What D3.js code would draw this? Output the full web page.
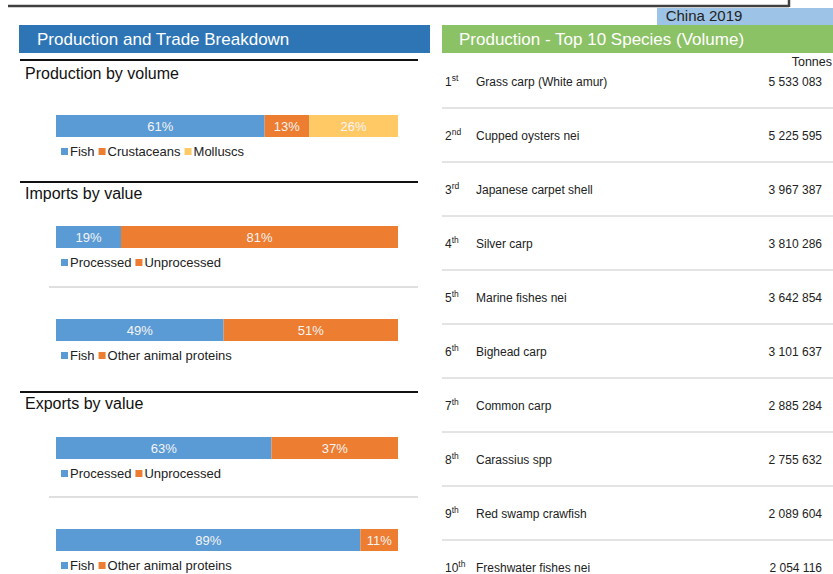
<!DOCTYPE html>
<html>
<head>
<meta charset="utf-8">
<script src="https://cdn.jsdelivr.net/npm/d3@7"></script>
<style>
  body { margin: 0; background: #ffffff; }
  svg { display: block; font-family: "Liberation Sans", Arial, sans-serif; }
</style>
</head>
<body>
<div id="chart"></div>
<script>
// --- Daten ---------------------------------------------------------------- //
var sectionTitles = ['Production by volume', 'Imports by value', 'Exports by value'];

var barCategories = [
    ['Fish', 'Crustaceans', 'Molluscs'],
    ['Processed', 'Unprocessed'],
    ['Fish', 'Other animal proteins'],
    ['Processed', 'Unprocessed'],
    ['Fish', 'Other animal proteins']
];
var barValues = [
    [61, 13, 26],
    [19, 81],
    [49, 51],
    [63, 37],
    [89, 11]
];

var speciesRank = ['1', '2', '3', '4', '5', '6', '7', '8', '9', '10'];
var speciesSuffix = ['st', 'nd', 'rd', 'th', 'th', 'th', 'th', 'th', 'th', 'th'];
var speciesNames = ['Grass carp (White amur)', 'Cupped oysters nei', 'Japanese carpet shell', 'Silver carp',
    'Marine fishes nei', 'Bighead carp', 'Common carp', 'Carassius spp', 'Red swamp crawfish', 'Freshwater fishes nei'];
var speciesTonnes = [5533083, 5225595, 3967387, 3810286, 3642854, 3101637, 2885284, 2755632, 2089604, 2054116];

// --- Konfiguration -------------------------------------------------------- //
var W = 833, H = 574;
var colors = ['#5b9bd5', '#ed7d31', '#ffc966'];

var svg = d3.select('#chart').append('svg')
    .attr('width', W)
    .attr('height', H);

// Kopfzeile
svg.append('line').attr('x1', 8).attr('x2', 789).attr('y1', 6).attr('y2', 6)
    .attr('stroke', '#404040').attr('stroke-width', 2.5);
svg.append('line').attr('x1', 789).attr('x2', 789).attr('y1', 0).attr('y2', 7)
    .attr('stroke', '#404040').attr('stroke-width', 2.5);

svg.append('rect').attr('x', 657).attr('y', 8).attr('width', W - 657).attr('height', 17).attr('fill', '#9dc3e6');
svg.append('text').attr('x', 704).attr('y', 21).attr('text-anchor', 'middle')
    .attr('font-size', 15).attr('fill', '#222').text('China 2019');

svg.append('rect').attr('x', 19).attr('y', 25).attr('width', 411).attr('height', 28).attr('fill', '#2e75b6');
svg.append('text').attr('x', 37).attr('y', 45).attr('font-size', 17).attr('fill', '#fff')
    .text('Production and Trade Breakdown');

svg.append('rect').attr('x', 442).attr('y', 25).attr('width', W - 442).attr('height', 28).attr('fill', '#8cc266');
svg.append('text').attr('x', 459).attr('y', 45).attr('font-size', 17).attr('fill', '#fff')
    .text('Production - Top 10 Species (Volume)');

// --- Linke Seite: gestapelte Balken -------------------------------------- //
var x = d3.scaleLinear().domain([0, 100]).range([56, 398]);

var sectionTop = [60, 182, 392];
var titleOffset = [19, 17, 17];
var barTop = [115, 226, 319, 437, 529];
var barH = 22;

sectionTop.forEach(function (yy, i) {
    svg.append('line').attr('x1', 20).attr('x2', 418).attr('y1', yy).attr('y2', yy)
        .attr('stroke', '#111').attr('stroke-width', 2);
    svg.append('text').attr('x', 25).attr('y', yy + titleOffset[i]).attr('font-size', 16).attr('fill', '#111')
        .text(sectionTitles[i]);
});

// graue Trennlinien zwischen Balken derselben Sektion
[287, 497].forEach(function (yy) {
    svg.append('line').attr('x1', 49).attr('x2', 418).attr('y1', yy).attr('y2', yy)
        .attr('stroke', '#bfbfbf').attr('stroke-width', 1);
});

barValues.forEach(function (vals, b) {
    var g = svg.append('g').attr('class', 'bar' + b);
    var cum = 0;
    var segs = vals.map(function (v, i) {
        var s = { x0: cum, x1: cum + v, v: v, i: i };
        cum += v;
        return s;
    });

    g.selectAll('rect').data(segs).enter().append('rect')
        .attr('x', function (d) { return x(d.x0); })
        .attr('y', barTop[b])
        .attr('width', function (d) { return x(d.x1) - x(d.x0); })
        .attr('height', barH)
        .attr('fill', function (d) { return colors[d.i]; });

    g.selectAll('text.lbl').data(segs).enter().append('text')
        .attr('class', 'lbl')
        .attr('x', function (d) { return (x(d.x0) + x(d.x1)) / 2; })
        .attr('y', barTop[b] + 16)
        .attr('text-anchor', 'middle')
        .attr('font-size', 13)
        .attr('fill', '#f4f4f4')
        .text(function (d) { return d.v + '%'; });

    // Legende
    var lx = 61;
    var ly = barTop[b] + 41;
    barCategories[b].forEach(function (c, i) {
        g.append('rect').attr('x', lx).attr('y', ly - 8).attr('width', 7).attr('height', 7)
            .attr('fill', colors[i]);
        var t = g.append('text').attr('x', lx + 9).attr('y', ly).attr('font-size', 13)
            .attr('fill', '#222').text(c);
        lx += 9 + t.node().getComputedTextLength() + 4;
    });
});

// --- Rechte Seite: Top 10 Arten ------------------------------------------ //
var y = d3.scalePoint().domain(speciesNames).range([82, 568]);
var fmt = function (n) { return d3.format(',')(n).replace(/,/g, ' '); };

svg.append('text').attr('x', 832).attr('y', 66).attr('text-anchor', 'end')
    .attr('font-size', 12.5).attr('fill', '#222').text('Tonnes');

var rows = svg.append('g').selectAll('g').data(speciesNames).enter().append('g')
    .attr('transform', function (d) { return 'translate(0,' + y(d) + ')'; });

rows.append('text').attr('x', 445).attr('y', 4).attr('font-size', 12).attr('fill', '#222')
    .each(function (d, i) {
        var t = d3.select(this);
        t.append('tspan').text(speciesRank[i]);
        t.append('tspan').attr('font-size', 8.5).attr('dy', -5).text(speciesSuffix[i]);
    });

rows.append('text').attr('x', 476).attr('y', 4).attr('font-size', 12).attr('fill', '#222')
    .text(function (d) { return d; });

rows.append('text').attr('x', 822).attr('y', 4).attr('text-anchor', 'end').attr('font-size', 12).attr('fill', '#222')
    .text(function (d, i) { return fmt(speciesTonnes[i]); });

rows.filter(function (d, i) { return i < speciesNames.length - 1; })
    .append('line').attr('x1', 442).attr('x2', W).attr('y1', 26).attr('y2', 26)
    .attr('stroke', '#c8c8c8').attr('stroke-width', 1);
</script>
</body>
</html>
